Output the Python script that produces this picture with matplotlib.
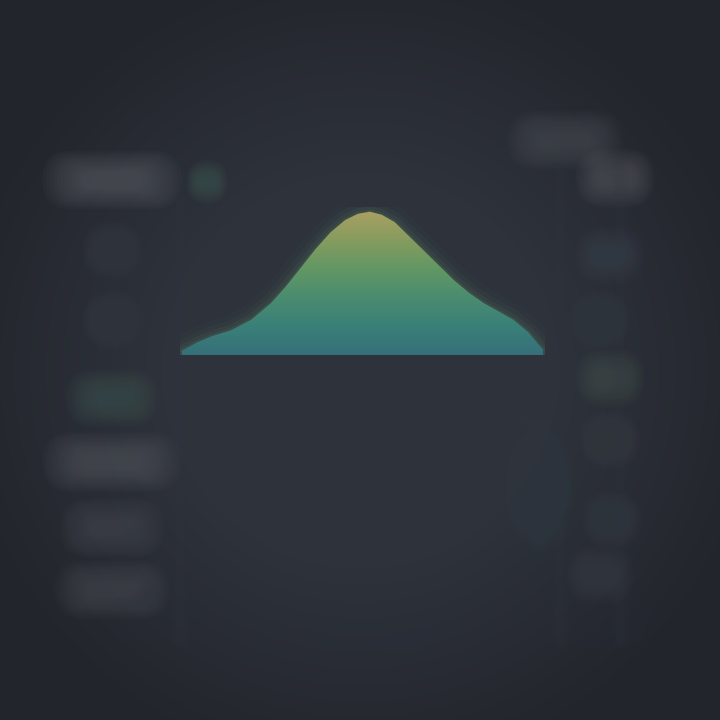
import numpy as np
import matplotlib.pyplot as plt
from matplotlib.colors import LinearSegmentedColormap
from matplotlib.patches import FancyBboxPatch

# Bell-shaped distribution (arbitrary units)
x_pos = [0, 15, 30, 50, 70, 90, 105, 120, 135, 150, 165, 178, 190,
         202, 215, 230, 245, 260, 275, 290, 305, 320, 335, 350, 365]
density = [4, 12, 18, 24, 34, 50, 66, 84, 102, 118, 130, 136, 138,
           135, 128, 114, 100, 86, 72, 60, 50, 42, 34, 22, 5]

# Faint label blocks (blurred, unreadable) -- left column, right column
left_rows = [180, 250, 320, 398, 462, 528, 590]
left_widths = [60, 26, 26, 40, 60, 45, 50]
left_shades = ["#5a5d64", "#3a3f48", "#3a3f48", "#3f5552", "#55585f", "#474a52", "#4a4d54"]
right_rows = [140, 178, 255, 320, 378, 440, 520, 575]
right_cols = [565, 615, 610, 600, 610, 610, 612, 600]
right_widths = [50, 34, 30, 26, 30, 26, 26, 30]
right_shades = ["#4c4f56", "#56585e", "#3c4550", "#3a4048", "#45524e", "#3c4148", "#3a4048", "#3b4049"]

BG = "#2c3038"

fig = plt.figure(figsize=(7.2, 7.2), dpi=100)
fig.patch.set_facecolor(BG)

# Decoration layer covering the whole canvas
bg = fig.add_axes([0, 0, 1, 1])
bg.set_xlim(0, 720)
bg.set_ylim(720, 0)
bg.axis("off")

# vignette
yy, xx = np.mgrid[0:720, 0:720]
r = np.hypot((xx - 360) / 360, (yy - 370) / 360)
vign = np.clip(r - 0.55, 0, 1)
bg.imshow(vign, extent=(0, 720, 720, 0), cmap=LinearSegmentedColormap.from_list(
    "v", ["#2e323b", "#22252b"]), vmin=0, vmax=0.6, zorder=0)


def blob(cx, cy, w, h, color, alpha=0.6, layers=12):
    for k in range(layers):
        s = 1.0 + 0.12 * (layers - 1 - k)
        ww, hh = w * s, h * s + 6 * (layers - 1 - k) * 0.4
        bg.add_patch(FancyBboxPatch((cx - ww / 2, cy - hh / 2), ww, hh,
                                    boxstyle=f"round,pad=0,rounding_size={hh / 2}",
                                    fc=color, ec="none",
                                    alpha=alpha / layers * 1.5, zorder=1))


for cy, w, c in zip(left_rows, left_widths, left_shades):
    blob(112, cy, w, 14, c)
for cx, cy, w, c in zip(right_cols, right_rows, right_widths, right_shades):
    blob(cx, cy, w, 14, c)

# faint top and bottom markings
blob(315, 125, 70, 8, "#353a44", 0.5)
blob(207, 182, 18, 8, "#3f5a55", 0.6)
blob(540, 490, 30, 50, "#344049", 0.6)
blob(430, 470, 100, 16, "#333943", 0.5)
blob(240, 550, 110, 12, "#343a44", 0.5)
blob(380, 540, 60, 12, "#343a44", 0.5)
blob(300, 615, 160, 12, "#31363f", 0.5)
blob(400, 625, 30, 14, "#373c46", 0.5)
blob(520, 620, 110, 12, "#31363f", 0.5)
for gx in [180, 560, 620]:
    for lw, a in [(12, 0.08), (6, 0.12)]:
        bg.plot([gx, gx], [170, 640], color="#343944", lw=lw, alpha=a,
                solid_capstyle="round", zorder=1)

# Chart layer
ax = fig.add_axes([0.25, 0.507, 0.507, 0.205])
ax.set_facecolor("none")
ax.axis("off")
xs = np.array(x_pos, dtype=float)
ys = np.array(density, dtype=float)
ax.set_xlim(xs.min() - 2, xs.max() + 2)
ax.set_ylim(0, ys.max() * 1.03)

cmap = LinearSegmentedColormap.from_list(
    "bell", ["#36707a", "#3a8078", "#4a8c70", "#629764", "#869c5e", "#a9a062"])
grad = np.linspace(0, 1, 256).reshape(-1, 1)
poly = ax.fill_between(xs, 0, ys, color="none", lw=0)
img = ax.imshow(grad, extent=(xs.min(), xs.max(), 0, ys.max()),
                origin="lower", aspect="auto", cmap=cmap, zorder=3)
clip = poly.get_paths()[0]
img.set_clip_path(clip, transform=ax.transData)

# soft glow around the shape
for lw, a in [(22, 0.04), (14, 0.06), (8, 0.09), (3, 0.15)]:
    ax.plot(xs, ys, color="#5f8f6e", lw=lw, alpha=a, zorder=2,
            solid_capstyle="round", solid_joinstyle="round")
    ax.plot([xs.min(), xs.max()], [0, 0], color="#35676f", lw=lw * 0.6,
            alpha=a * 1.5, zorder=2, solid_capstyle="round")

fig.savefig("out.png", dpi=100, facecolor=BG)
